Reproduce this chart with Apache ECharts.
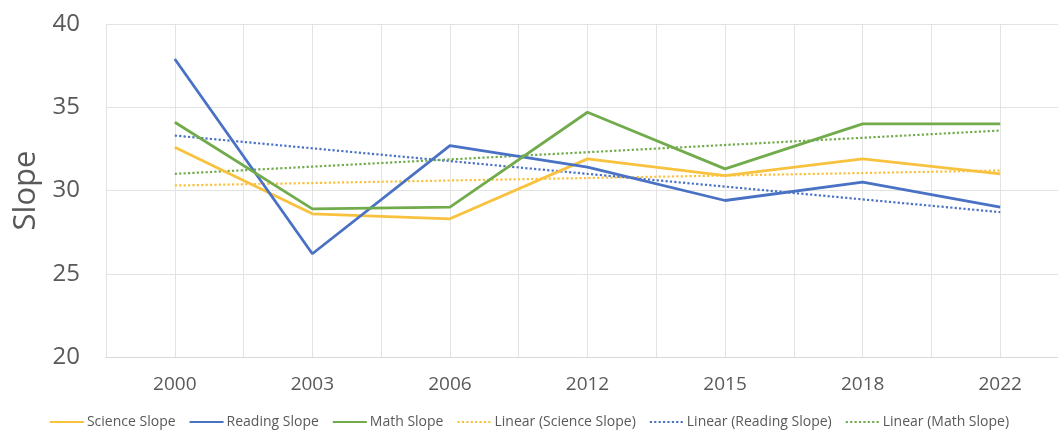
<!DOCTYPE html>
<html>
<head>
<meta charset="utf-8">
<script src="https://cdn.jsdelivr.net/npm/echarts@6/dist/echarts.min.js"></script>
<style>
  html, body { margin: 0; padding: 0; background: #fff; }
  #chart { width: 1058px; height: 430px; }
</style>
</head>
<body>
<div id="chart"></div>
<script>
// categories (years) and values
const years = ['2000', '2003', '2006', '2012', '2015', '2018', '2022'];
const scienceSlope = [32.6, 28.6, 28.3, 31.9, 30.9, 31.9, 31.0];
const readingSlope = [37.9, 26.2, 32.7, 31.4, 29.4, 30.5, 29.0];
const mathSlope = [34.1, 28.9, 29.0, 34.7, 31.3, 34.0, 34.0];
// trendline endpoints (first year, last year)
const scienceTrend = [30.3, 31.2];
const readingTrend = [33.3, 28.7];
const mathTrend = [31.0, 33.6];
const yTicks = { min: 20, max: 40, step: 5 };

const YELLOW = '#F8C23E';
const BLUE = '#4A72C4';
const GREEN = '#72AB4C';
const TEXT = '#595959';
const GRID = '#e3e3e3';
const FONT = '"Open Sans", sans-serif';

const chart = echarts.init(document.getElementById('chart'));

function solid(name, data, color) {
    return {
        name: name,
        type: 'line',
        data: data,
        symbol: 'none',
        color: color,
        lineStyle: { width: 2.8, color: color },
        z: 3
    };
}

function trend(name, ends, color) {
    return {
        name: name,
        type: 'line',
        data: [[years[0], ends[0]], [years[years.length - 1], ends[1]]],
        symbol: 'none',
        color: color,
        lineStyle: { width: 2.2, color: color, type: [2.2, 2.2] },
        z: 2
    };
}

const option = {
    backgroundColor: '#fff',
    animation: false,
    grid: { left: 106, right: -11, top: 24, bottom: 73, outerBoundsMode: 'none', containLabel: false },
    legend: {
        top: 410,
        left: 'center',
        itemWidth: 34,
        itemHeight: 14,
        itemGap: 13,
        itemStyle: { opacity: 0 },
        textStyle: { color: TEXT, fontSize: 14, fontFamily: FONT, padding: [0, 0, 0, -2] },
        data: ['Science Slope', 'Reading Slope', 'Math Slope',
            'Linear (Science Slope)', 'Linear (Reading Slope)', 'Linear (Math Slope)']
    },
    xAxis: [
        {
            type: 'category',
            data: years,
            boundaryGap: true,
            axisLine: { show: true, lineStyle: { color: '#d9d9d9', width: 1 } },
            axisTick: { show: false },
            splitLine: { show: false },
            axisLabel: { color: TEXT, fontSize: 19, fontFamily: FONT, margin: 18 }
        },
        {
            // half-category gridlines
            type: 'value',
            min: -0.5,
            max: years.length - 0.5,
            interval: 0.5,
            axisLine: { show: false },
            axisTick: { show: false },
            axisLabel: { show: false },
            splitLine: { show: true, lineStyle: { color: GRID, width: 1 } }
        }
    ],
    yAxis: {
        type: 'value',
        min: yTicks.min,
        max: yTicks.max,
        interval: yTicks.step,
        name: 'Slope',
        nameLocation: 'middle',
        nameGap: 63,
        nameRotate: 90,
        nameTextStyle: { color: TEXT, fontSize: 31, fontFamily: FONT },
        axisLine: { show: false },
        axisTick: { show: false },
        axisLabel: { color: TEXT, fontSize: 24, fontFamily: FONT, margin: 26 },
        splitLine: { lineStyle: { color: GRID, width: 1 } }
    },
    series: [
        solid('Science Slope', scienceSlope, YELLOW),
        solid('Reading Slope', readingSlope, BLUE),
        solid('Math Slope', mathSlope, GREEN),
        trend('Linear (Science Slope)', scienceTrend, YELLOW),
        trend('Linear (Reading Slope)', readingTrend, BLUE),
        trend('Linear (Math Slope)', mathTrend, GREEN)
    ]
};

chart.setOption(option);
</script>
</body>
</html>
